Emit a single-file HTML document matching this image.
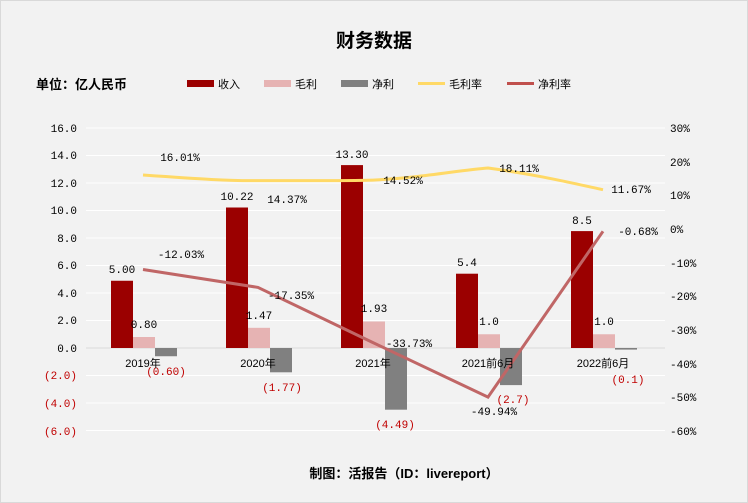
<!DOCTYPE html>
<html><head><meta charset="utf-8"><style>
body{margin:0;background:#fff}
svg{display:block}
text{font-family:"Liberation Mono","Noto Sans CJK SC",monospace;font-size:11px;fill:#000}
.b{font-family:"Liberation Sans","Noto Sans CJK SC",sans-serif;font-weight:bold}
.r{fill:#c00000}
</style></head><body>
<svg width="748" height="503" xmlns="http://www.w3.org/2000/svg">
<rect x="0.5" y="0.5" width="747" height="502" fill="#f2f2f2" stroke="#d9d9d9"/>
<text x="374" y="47" text-anchor="middle" class="b" style="font-size:19px">财务数据</text>
<text x="36" y="89" class="b" style="font-size:13px">单位：亿人民币</text>
<rect x="187" y="80" width="27" height="7" fill="#9b0000"/><text x="218" y="88" style="font-family:'Noto Sans CJK SC',sans-serif">收入</text>
<rect x="264" y="80" width="27" height="7" fill="#e6b3b3"/><text x="295" y="88" style="font-family:'Noto Sans CJK SC',sans-serif">毛利</text>
<rect x="341" y="80" width="27" height="7" fill="#808080"/><text x="372" y="88" style="font-family:'Noto Sans CJK SC',sans-serif">净利</text>
<rect x="418" y="82" width="27" height="3" fill="#ffd966"/><text x="449" y="88" style="font-family:'Noto Sans CJK SC',sans-serif">毛利率</text>
<rect x="507" y="82" width="27" height="3" fill="#c0504d"/><text x="538" y="88" style="font-family:'Noto Sans CJK SC',sans-serif">净利率</text>
<g stroke="#fff" stroke-width="1">
<line x1="86" x2="665" y1="128" y2="128"/><line x1="86" x2="665" y1="155.5" y2="155.5"/><line x1="86" x2="665" y1="183" y2="183"/><line x1="86" x2="665" y1="210.5" y2="210.5"/><line x1="86" x2="665" y1="238" y2="238"/><line x1="86" x2="665" y1="265.5" y2="265.5"/><line x1="86" x2="665" y1="293" y2="293"/><line x1="86" x2="665" y1="320.5" y2="320.5"/><line x1="86" x2="665" y1="375.5" y2="375.5"/><line x1="86" x2="665" y1="403" y2="403"/><line x1="86" x2="665" y1="430.5" y2="430.5"/>
</g>
<line x1="86" x2="665" y1="348" y2="348" stroke="#d9d9d9"/>
<g text-anchor="end">
<text x="77" y="132">16.0</text><text x="77" y="159">14.0</text><text x="77" y="187">12.0</text><text x="77" y="214">10.0</text><text x="77" y="242">8.0</text><text x="77" y="269">6.0</text><text x="77" y="297">4.0</text><text x="77" y="324">2.0</text><text x="77" y="352">0.0</text>
<text x="77" y="379" class="r">(2.0)</text><text x="77" y="407" class="r">(4.0)</text><text x="77" y="435" class="r">(6.0)</text>
</g>
<g>
<text x="670" y="132">30%</text><text x="670" y="166">20%</text><text x="670" y="199">10%</text><text x="670" y="233">0%</text><text x="670" y="267">-10%</text><text x="670" y="300">-20%</text><text x="670" y="334">-30%</text><text x="670" y="368">-40%</text><text x="670" y="401">-50%</text><text x="670" y="435">-60%</text>
</g>
<g fill="#9b0000">
<rect x="111" y="280.75" width="22" height="67.25"/><rect x="226" y="207.5" width="22" height="140.5"/><rect x="341" y="165.1" width="22" height="182.9"/><rect x="456" y="273.7" width="22" height="74.3"/><rect x="571" y="231.1" width="22" height="116.9"/>
</g>
<g fill="#e6b3b3">
<rect x="133" y="337" width="22" height="11"/><rect x="248" y="327.8" width="22" height="20.2"/><rect x="363" y="321.5" width="22" height="26.5"/><rect x="478" y="334.25" width="22" height="13.75"/><rect x="593" y="334.25" width="22" height="13.75"/>
</g>
<g fill="#808080">
<rect x="155" y="348" width="22" height="8.25"/><rect x="270" y="348" width="22" height="24.3"/><rect x="385" y="348" width="22" height="61.7"/><rect x="500" y="348" width="22" height="37.1"/><rect x="615" y="348" width="22" height="1.6"/>
</g>
<path d="M143 175 C200 179,230 181,258 180.6 C300 180.5,340 181,373 180.1 C420 178,460 170,488 168 C540 175,580 185,603 189.7" fill="none" stroke="#ffd966" stroke-width="3"/>
<polyline points="143,269.5 258,287.4 373,342.6 488,397.1 603,231.3" fill="none" stroke="#c06666" stroke-width="3"/>
<g text-anchor="middle">
<text x="122" y="273">5.00</text><text x="237" y="200">10.22</text><text x="352" y="158">13.30</text><text x="467" y="266">5.4</text><text x="582" y="224">8.5</text>
<text x="144" y="328">0.80</text><text x="259" y="319">1.47</text><text x="374" y="312">1.93</text><text x="489" y="325">1.0</text><text x="604" y="325">1.0</text>
<text x="166" y="375" class="r">(0.60)</text><text x="282" y="391" class="r">(1.77)</text><text x="395" y="428" class="r">(4.49)</text><text x="513" y="403" class="r">(2.7)</text><text x="628" y="383" class="r">(0.1)</text>
<text x="180" y="161">16.01%</text><text x="287" y="203">14.37%</text><text x="403" y="184">14.52%</text><text x="519" y="172">18.11%</text><text x="631" y="193">11.67%</text>
<text x="181" y="258">-12.03%</text><text x="291" y="299">-17.35%</text><text x="409" y="347">-33.73%</text><text x="494" y="415">-49.94%</text><text x="638" y="235">-0.68%</text>
<text x="143" y="367" style="font-family:'Liberation Sans','Noto Sans CJK SC',sans-serif">2019年</text><text x="258" y="367" style="font-family:'Liberation Sans','Noto Sans CJK SC',sans-serif">2020年</text><text x="373" y="367" style="font-family:'Liberation Sans','Noto Sans CJK SC',sans-serif">2021年</text><text x="488" y="367" style="font-family:'Liberation Sans','Noto Sans CJK SC',sans-serif">2021前6月</text><text x="603" y="367" style="font-family:'Liberation Sans','Noto Sans CJK SC',sans-serif">2022前6月</text>
</g>
<text x="404" y="478" text-anchor="middle" class="b" style="font-size:13px">制图：活报告（ID：livereport）</text>
</svg>
</body></html>
